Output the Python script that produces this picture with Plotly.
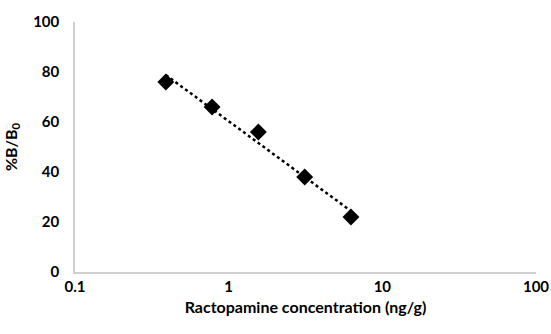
import numpy as np
import plotly.graph_objects as go

# Ractopamine standard curve
concentration = [0.39, 0.78, 1.56, 3.125, 6.25]   # ng/g
binding = [76, 66, 56, 38, 22]                    # %B/B0

x_ticks = [0.1, 1, 10, 100]
x_tick_text = ["0.1", "1", "10", "100"]
y_ticks = [0, 20, 40, 60, 80, 100]

# Logarithmic trendline over the measured range
slope, intercept = np.polyfit(np.log10(concentration), binding, 1)
trend_x = np.array([concentration[0], concentration[-1]])
trend_y = slope * np.log10(trend_x) + intercept

family = "Lato, 'Open Sans', sans-serif"

fig = go.Figure()
fig.add_trace(go.Scatter(
    x=trend_x, y=trend_y, mode="lines",
    line=dict(color="black", width=2.5, dash="dot"),
    hoverinfo="skip", showlegend=False,
))
fig.add_trace(go.Scatter(
    x=concentration, y=binding, mode="markers",
    marker=dict(symbol="diamond", size=13, color="black"),
    showlegend=False,
))

fig.update_layout(
    width=551, height=334,
    margin=dict(l=75, r=15, t=22, b=62),
    paper_bgcolor="white", plot_bgcolor="white",
    font=dict(family=family, size=16, color="#000000"),
)
fig.update_xaxes(
    type="log", range=[-1, 2], automargin=False,
    tickvals=x_ticks, ticktext=[f"<b>{t}</b>" for t in x_tick_text],
    showgrid=False, zeroline=False,
    showline=True, linecolor="#d0d0d0", linewidth=1.5,
    ticks="", tickfont=dict(family=family, size=15, color="#000000"),
    title=dict(text="<b>Ractopamine concentration (ng/g)</b>",
               font=dict(family=family, size=16, color="#000000"), standoff=8),
)
fig.update_yaxes(
    range=[0, 100], tickvals=y_ticks, automargin=False,
    ticktext=[f"<b>{t}</b>" for t in y_ticks],
    showgrid=False, zeroline=False,
    showline=True, linecolor="#d0d0d0", linewidth=1.5,
    ticks="", ticklabelstandoff=11,
    tickfont=dict(family=family, size=15, color="#000000"),
    title=dict(text="<b>%B/B<sub>0</sub></b>",
               font=dict(family=family, size=16, color="#000000"), standoff=12),
)

fig.write_html("out.html")
